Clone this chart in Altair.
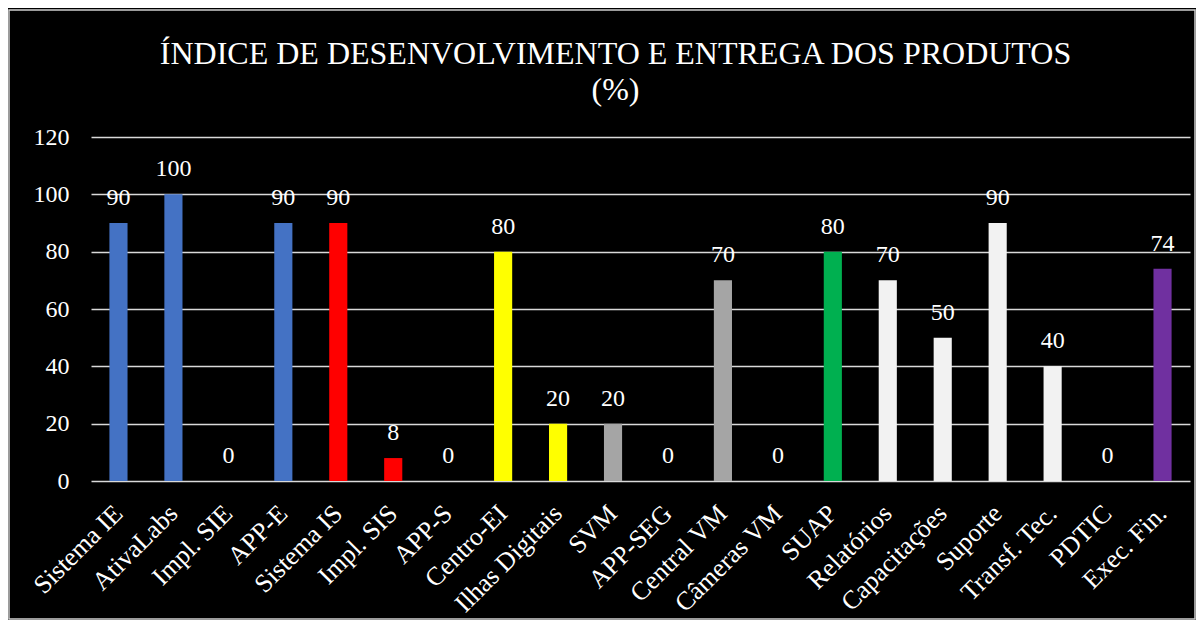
import altair as alt
import pandas as pd

categories = ["Sistema IE", "AtivaLabs", "Impl. SIE", "APP-E", "Sistema IS", "Impl. SIS",
              "APP-S", "Centro-EI", "Ilhas Digitais", "SVM", "APP-SEG", "Central VM",
              "Câmeras VM", "SUAP", "Relatórios", "Capacitações", "Suporte",
              "Transf. Tec.", "PDTIC", "Exec. Fin."]
values = [90, 100, 0, 90, 90, 8, 0, 80, 20, 20, 0, 70, 0, 80, 70, 50, 90, 40, 0, 74]
groups = ["E", "E", "E", "E", "S", "S", "S", "EI", "EI", "VM", "VM", "VM", "VM",
          "SUAP", "G", "G", "G", "G", "G", "F"]
group_names = ["E", "S", "EI", "VM", "SUAP", "G", "F"]
group_colors = ["#4472C4", "#FF0000", "#FFFF00", "#A5A5A5", "#00B050", "#F2F2F2", "#7030A0"]
y_ticks = [0, 20, 40, 60, 80, 100, 120]

df = pd.DataFrame({"cat": categories, "val": values, "grp": groups})

FONT = "Liberation Serif"

x = alt.X("cat:N", sort=categories, title=None,
          scale=alt.Scale(paddingInner=0.67, paddingOuter=0.335),
          axis=alt.Axis(labelAngle=-45, labelAlign="right", labelBaseline="middle",
                        labelFont=FONT, labelFontSize=26, labelColor="white",
                        labelPadding=28, ticks=False, domain=False, grid=False,
                        labelOverlap=False))
y = alt.Y("val:Q", title=None,
          scale=alt.Scale(domain=[0, 120], nice=False),
          axis=alt.Axis(values=y_ticks, labelFont=FONT, labelFontSize=24,
                        labelColor="white", labelPadding=22, ticks=False,
                        domain=False, gridColor="#d9d9d9", gridWidth=1.5))

base = alt.Chart(df).encode(x=x, y=y)

bars = base.mark_bar().encode(
    color=alt.Color("grp:N", scale=alt.Scale(domain=group_names, range=group_colors),
                    legend=None),
)

labels = base.mark_text(
    font=FONT, fontSize=24, color="white", baseline="alphabetic", dy=-18
).encode(text=alt.Text("val:Q"))

frame = alt.Chart(pd.DataFrame({"f": [0]})).mark_rect(
    fill=None, stroke="#d0d0d0", strokeWidth=1.5, clip=False
).encode(
    x=alt.value(-82), x2=alt.value(1104),
    y=alt.value(-127), y2=alt.value(482),
)

chart = alt.layer(bars, labels, frame).properties(
    width=1099, height=344,
    padding={"left": 83, "top": 129, "right": 6, "bottom": 139},
    autosize=alt.AutoSizeParams(type="none"),
    background="black",
    title=alt.TitleParams(
        text=["ÍNDICE DE DESENVOLVIMENTO E ENTREGA DOS PRODUTOS", "(%)"],
        font=FONT, fontSize=32, fontWeight="normal", color="white",
        lineHeight=36, anchor="middle", dx=-25, offset=-98,
    ),
).configure_view(stroke=None).configure_axis(
    labelFont=FONT
).configure_text(font=FONT)

chart.save("out.html", embed_options={"renderer": "svg", "actions": False})
